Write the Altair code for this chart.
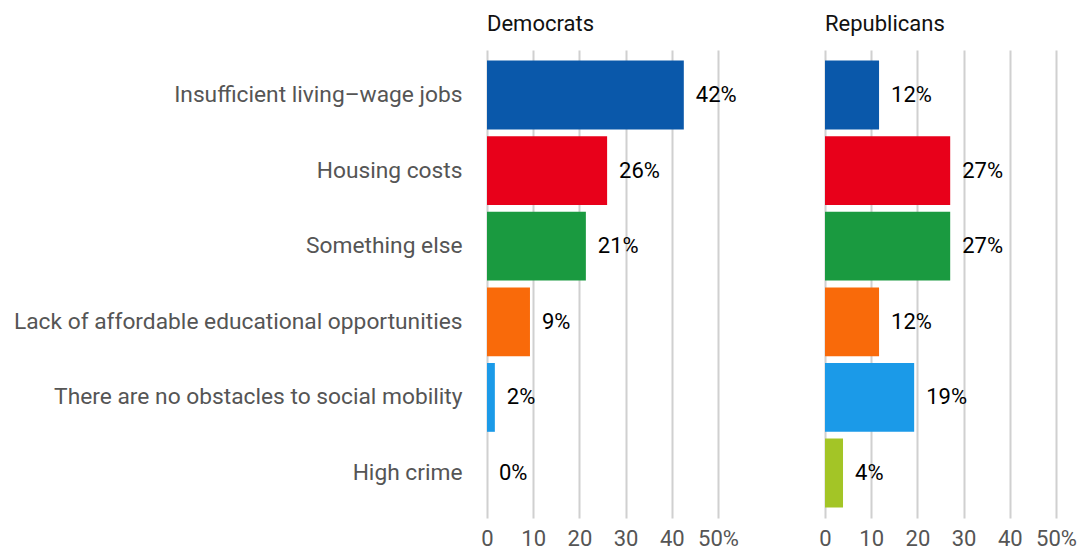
import altair as alt
import pandas as pd

categories = [
    "Insufficient living–wage jobs",
    "Housing costs",
    "Something else",
    "Lack of affordable educational opportunities",
    "There are no obstacles to social mobility\u00a0",
    "High crime",
]
colors = ["#0a58aa", "#e8001a", "#1a9a40", "#f96a0a", "#1b9ae8", "#a3c526"]

dem_values = [42.6, 26.0, 21.4, 9.3, 1.7, 0.0]
dem_labels = ["42%", "26%", "21%", "9%", "2%", "0%"]
rep_values = [11.7, 27.1, 27.1, 11.7, 19.3, 3.9]
rep_labels = ["12%", "27%", "27%", "12%", "19%", "4%"]

tick_values = [0, 10, 20, 30, 40, 50]

FONT = "Roboto"
FS = 22
CAT_FS = 22.75


def panel(values, labels, title, show_y):
    df = pd.DataFrame({"category": categories, "value": values, "label": labels})
    y_axis = (
        alt.Axis(
            labelFontSize=CAT_FS,
            labelFont=FONT,
            labelColor="#555555",
            labelPadding=25,
            labelLimit=1000,
            ticks=False,
            domain=False,
            grid=False,
        )
        if show_y
        else None
    )
    y = alt.Y(
        "category:N",
        sort=categories,
        scale=alt.Scale(paddingInner=0.09, paddingOuter=0.14),
        axis=y_axis,
        title=None,
    )
    x = alt.X(
        "value:Q",
        scale=alt.Scale(domain=[0, 50], nice=False),
        axis=alt.Axis(
            values=tick_values,
            labelExpr="datum.value == 50 ? '50%' : datum.label",
            grid=True,
            gridColor="#d0d0d0",
            gridWidth=2,
            domain=False,
            ticks=False,
            labelPadding=10,
            labelFontSize=FS,
            labelFont=FONT,
            labelColor="#555555",
            labelFlush=False,
            labelOverlap=False,
        ),
        title=None,
    )
    bars = alt.Chart(df).mark_bar().encode(
        x=x,
        y=y,
        color=alt.Color(
            "category:N",
            scale=alt.Scale(domain=categories, range=colors),
            legend=None,
        ),
    )
    text = alt.Chart(df).mark_text(
        align="left", baseline="middle", dx=12, fontSize=FS, font=FONT, color="#000000"
    ).encode(x=x, y=y, text="label:N")
    return alt.layer(bars, text).properties(
        width=231,
        height=468,
        title=alt.TitleParams(
            title,
            anchor="start",
            frame="group",
            fontSize=FS,
            font=FONT,
            fontWeight="normal",
            color="#111111",
            offset=14,
        ),
    )


chart = (
    alt.hconcat(
        panel(dem_values, dem_labels, "Democrats", True),
        panel(rep_values, rep_labels, "Republicans", False),
        spacing=79,
    )
    .configure_view(stroke=None)
    .properties(padding={"left": 5, "top": 5, "right": 5, "bottom": 0})
)

chart.save("out.html", embed_options={"renderer": "svg", "actions": False})
